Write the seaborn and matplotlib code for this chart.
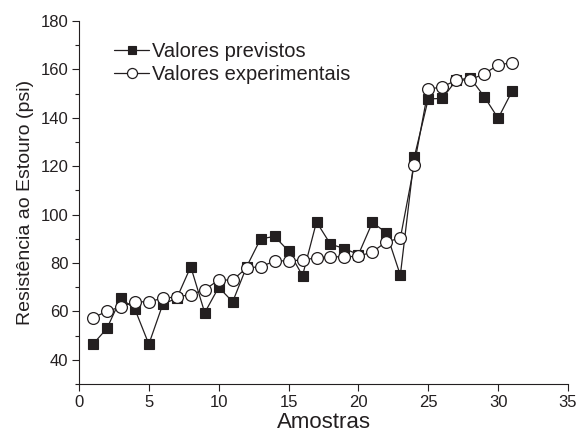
import matplotlib
matplotlib.use("Agg")
import matplotlib.pyplot as plt
from matplotlib.ticker import MultipleLocator
import seaborn as sns
import pandas as pd

amostras = list(range(1, 32))
previstos = [46.5, 53, 65.5, 61, 46.5, 63, 65.5, 78.5, 59.5, 70, 64,
             78.5, 90, 91, 85, 74.8, 97, 87.8, 86, 83.5, 96.8, 92.5, 75, 123.8,
             147.8, 148, 155.5, 156.5, 148.8, 139.8, 151]
experimentais = [57.5, 60, 62, 64, 64, 65.5, 66, 67, 69, 73, 73,
                 78, 78.5, 80.8, 81, 81.2, 82.2, 82.6, 82.6, 82.8, 84.6, 88.8, 90.3, 120.7,
                 151.8, 152.8, 155.5, 155.7, 158.2, 161.8, 162.8]
series_names = ["Valores previstos", "Valores experimentais"]

sns.set_style("ticks")
plt.rcParams['font.family'] = ['Liberation Sans', 'DejaVu Sans']

fig = plt.figure(figsize=(5.79, 4.37), dpi=100)
ax = fig.add_axes([0.1364, 0.121, 0.8446, 0.831])

df1 = pd.DataFrame({"x": amostras, "y": previstos})
df2 = pd.DataFrame({"x": amostras, "y": experimentais})
ink = "#231f20"
sns.lineplot(data=df1, x="x", y="y", ax=ax, color=ink, lw=0.9, marker="s",
             markersize=7.5, markerfacecolor=ink, markeredgecolor=ink,
             markeredgewidth=0.8, label=series_names[0])
sns.lineplot(data=df2, x="x", y="y", ax=ax, color=ink, lw=0.9, marker="o",
             markersize=8.5, markerfacecolor="white", markeredgecolor=ink,
             markeredgewidth=0.9, label=series_names[1])

ax.set_xlim(0, 35)
ax.set_ylim(30, 180)
ax.xaxis.set_major_locator(MultipleLocator(5))
ax.yaxis.set_minor_locator(MultipleLocator(10))
ax.set_yticks([40, 60, 80, 100, 120, 140, 160, 180])
ax.tick_params(axis="both", which="major", direction="out", length=5, width=0.8,
               labelsize=12, colors=ink, pad=2.5)
ax.tick_params(axis="y", which="minor", direction="out", length=3, width=0.8, color=ink)
for s in ["top", "right"]:
    ax.spines[s].set_visible(False)
for s in ["left", "bottom"]:
    ax.spines[s].set_linewidth(0.8)
    ax.spines[s].set_color(ink)

ax.set_xlabel("Amostras", fontsize=16, color=ink, labelpad=2)
ax.set_ylabel("Resistência ao Estouro (psi)", fontsize=14, color=ink, labelpad=5)

leg = ax.legend(loc="upper left", bbox_to_anchor=(0.055, 0.965), frameon=False,
                fontsize=14.5, handlelength=1.75, handletextpad=0.15, labelspacing=0.2,
                borderaxespad=0.0, markerscale=0.85)
for t in leg.get_texts():
    t.set_color(ink)

fig.savefig("out.png", dpi=100)
